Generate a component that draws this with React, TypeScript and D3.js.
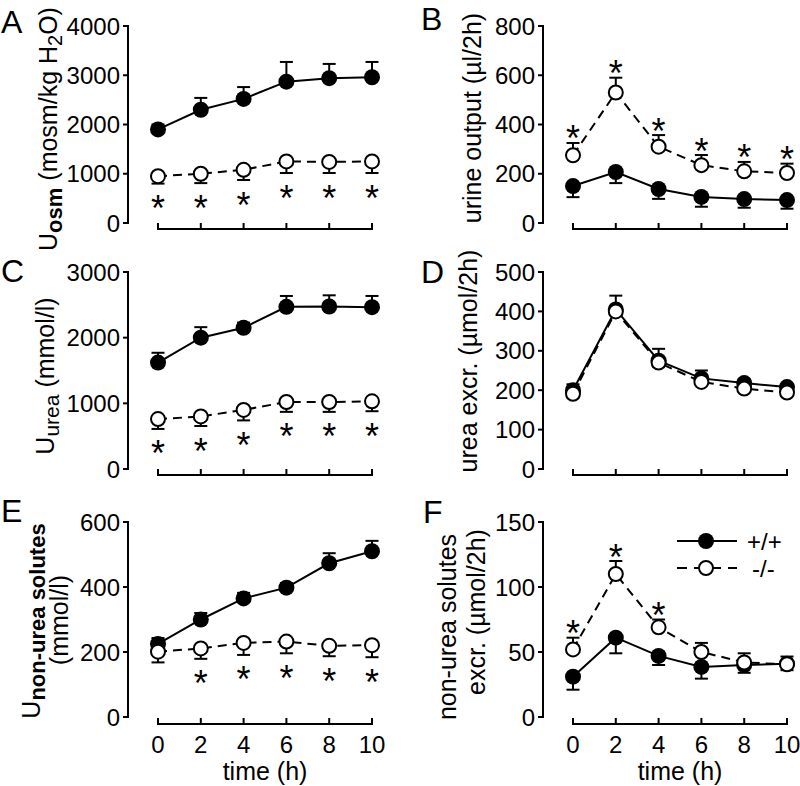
import React from 'react';
import * as d3 from 'd3';

// ---------- data ----------
const times = [0, 2, 4, 6, 8, 10];
const xTickLabels = ['0', '2', '4', '6', '8', '10'];

// A: U osm
const osmWT = [1900, 2300, 2520, 2870, 2940, 2960];
const osmWTsem = [100, 240, 240, 400, 290, 310];
const osmKO = [950, 1000, 1080, 1250, 1240, 1250];
const osmKOsem = [150, 190, 207, 235, 225, 235];
const osmSig = [1, 1, 1, 1, 1, 1];
const osmTicks = [0, 1000, 2000, 3000, 4000];

// B: urine output
const urineWT = [150, 207, 138, 106, 97, 93];
const urineWTsem = [45, 45, 40, 40, 35, 35];
const urineKO = [275, 530, 310, 235, 210, 203];
const urineKOsem = [50, 60, 47, 41, 38, 38];
const urineSig = [1, 1, 1, 1, 1, 1];
const urineTicks = [0, 200, 400, 600, 800];

// C: U urea
const ureaWT = [1620, 2000, 2150, 2470, 2475, 2465];
const ureaWTsem = [150, 160, 80, 165, 170, 170];
const ureaKO = [760, 800, 900, 1020, 1020, 1030];
const ureaKOsem = [150, 145, 160, 150, 150, 150];
const ureaSig = [1, 1, 1, 1, 1, 1];
const ureaTicks = [0, 1000, 2000, 3000];

// D: urea excretion
const ureaExWT = [200, 405, 275, 230, 218, 208];
const ureaExWTsem = [15, 35, 30, 20, 10, 8];
const ureaExKO = [191, 400, 270, 221, 204, 194];
const ureaExKOsem = [10, 10, 10, 8, 8, 8];
const ureaExSig = [0, 0, 0, 0, 0, 0];
const ureaExTicks = [0, 100, 200, 300, 400, 500];

// E: U non-urea solutes
const nonUreaWT = [225, 300, 365, 398, 473, 510];
const nonUreaWTsem = [18, 20, 17, 14, 31, 32];
const nonUreaKO = [201, 211, 228, 232, 219, 221];
const nonUreaKOsem = [33, 32, 37, 36, 32, 37];
const nonUreaSig = [0, 1, 1, 1, 1, 1];
const nonUreaTicks = [0, 200, 400, 600];

// F: non-urea solutes excretion
const nonUreaExWT = [31, 61, 47, 38.5, 40, 41];
const nonUreaExWTsem = [10, 12, 7, 9, 6, 5];
const nonUreaExKO = [52, 110, 69, 50, 42, 40.5];
const nonUreaExKOsem = [9, 10, 6, 7, 7, 6];
const nonUreaExSig = [1, 1, 1, 0, 0, 0];
const nonUreaExTicks = [0, 50, 100, 150];

const legendLabels = ['+/+', '-/-'];

// ---------- layout ----------
const FONT = "'Liberation Sans', Arial, Helvetica, sans-serif";
const cols = [
  { axisX: 128, x0: 158, x1: 372 },
  { axisX: 543, x0: 573, x1: 787 },
];
const rows = [
  { y0: 223, y1: 26, xAxisY: 229 },
  { y0: 469, y1: 272, xAxisY: 475 },
  { y0: 717, y1: 522, xAxisY: 724 },
];

type Panel = {
  letter: string;
  letterPos: [number, number];
  row: number;
  col: number;
  ticks: number[];
  wt: number[];
  wtSem: number[];
  wtUp: boolean;
  ko: number[];
  koSem: number[];
  koUp: boolean;
  sig: number[];
  label: React.ReactNode;
};

const sub = (t: string, bold = false, size = 21) => (
  <tspan fontSize={size} dy={5} fontWeight={bold ? 'bold' : 'normal'}>{t}</tspan>
);

const panels: Panel[] = [
  {
    letter: 'A', letterPos: [1, 33], row: 0, col: 0, ticks: osmTicks,
    wt: osmWT, wtSem: osmWTsem, wtUp: true, ko: osmKO, koSem: osmKOsem, koUp: false, sig: osmSig,
    label: (
      <text transform="translate(57,129) rotate(-90)" textAnchor="middle" fontSize={25}>
        U{sub('osm', true, 22)}<tspan dy={-5}> (mosm/kg H</tspan>{sub('2', false, 20)}<tspan dy={-5}>O)</tspan>
      </text>
    ),
  },
  {
    letter: 'B', letterPos: [421, 30], row: 0, col: 1, ticks: urineTicks,
    wt: urineWT, wtSem: urineWTsem, wtUp: false, ko: urineKO, koSem: urineKOsem, koUp: true, sig: urineSig,
    label: (
      <text transform="translate(481,118) rotate(-90)" textAnchor="middle" fontSize={25}>
        urine output (µl/2h)
      </text>
    ),
  },
  {
    letter: 'C', letterPos: [1, 282], row: 1, col: 0, ticks: ureaTicks,
    wt: ureaWT, wtSem: ureaWTsem, wtUp: true, ko: ureaKO, koSem: ureaKOsem, koUp: false, sig: ureaSig,
    label: (
      <text transform="translate(54,376) rotate(-90)" textAnchor="middle" fontSize={25}>
        U{sub('urea', false, 21)}<tspan dy={-5}> (mmol/l)</tspan>
      </text>
    ),
  },
  {
    letter: 'D', letterPos: [421, 283], row: 1, col: 1, ticks: ureaExTicks,
    wt: ureaExWT, wtSem: ureaExWTsem, wtUp: true, ko: ureaExKO, koSem: ureaExKOsem, koUp: false, sig: ureaExSig,
    label: (
      <text transform="translate(477,361) rotate(-90)" textAnchor="middle" fontSize={25}>
        urea excr. (µmol/2h)
      </text>
    ),
  },
  {
    letter: 'E', letterPos: [1, 522], row: 2, col: 0, ticks: nonUreaTicks,
    wt: nonUreaWT, wtSem: nonUreaWTsem, wtUp: true, ko: nonUreaKO, koSem: nonUreaKOsem, koUp: false, sig: nonUreaSig,
    label: (
      <g>
        <text transform="translate(40,621) rotate(-90)" textAnchor="middle" fontSize={25}>
          U{sub('non-urea solutes', true, 22)}
        </text>
        <text transform="translate(68,620) rotate(-90)" textAnchor="middle" fontSize={25}>
          (mmol/l)
        </text>
      </g>
    ),
  },
  {
    letter: 'F', letterPos: [423, 523], row: 2, col: 1, ticks: nonUreaExTicks,
    wt: nonUreaExWT, wtSem: nonUreaExWTsem, wtUp: false, ko: nonUreaExKO, koSem: nonUreaExKOsem, koUp: true, sig: nonUreaExSig,
    label: (
      <g>
        <text transform="translate(456,627) rotate(-90)" textAnchor="middle" fontSize={25}>
          non-urea solutes
        </text>
        <text transform="translate(485,612) rotate(-90)" textAnchor="middle" fontSize={25}>
          excr. (µmol/2h)
        </text>
      </g>
    ),
  },
];

const R = 8;
const CAP = 6.5;
const SW = 2;
const STAR = 36;

function Series({ xs, ys, vals, sems, up, filled }: any) {
  const pts = times.map((t, i) => [xs(t), ys(vals[i])] as [number, number]);
  const line = d3.line()(pts) || '';
  return (
    <g>
      <path d={line} fill="none" stroke="#000" strokeWidth={SW} strokeDasharray={filled ? undefined : '9,6'} />
      {times.map((t, i) => {
        const x = xs(t);
        const ye = ys(vals[i] + (up ? sems[i] : -sems[i]));
        return (
          <g key={'e' + i}>
            <line x1={x} x2={x} y1={ys(vals[i])} y2={ye} stroke="#000" strokeWidth={SW} />
            <line x1={x - CAP} x2={x + CAP} y1={ye} y2={ye} stroke="#000" strokeWidth={SW} />
          </g>
        );
      })}
      {times.map((t, i) =>
        filled ? (
          <circle key={'c' + i} cx={xs(t)} cy={ys(vals[i])} r={R} fill="#000" />
        ) : (
          <circle key={'c' + i} cx={xs(t)} cy={ys(vals[i])} r={R - 1} fill="#fff" stroke="#000" strokeWidth={SW} />
        )
      )}
    </g>
  );
}

function PanelView({ p }: { p: Panel }) {
  const c = cols[p.col];
  const r = rows[p.row];
  const yMax = p.ticks[p.ticks.length - 1];
  const xs = d3.scaleLinear().domain([0, 10]).range([c.x0, c.x1]);
  const ys = d3.scaleLinear().domain([0, yMax]).range([r.y0, r.y1]);
  return (
    <g>
      <text x={p.letterPos[0]} y={p.letterPos[1]} fontSize={32}>{p.letter}</text>
      {p.label}
      {/* y axis */}
      <line x1={c.axisX} x2={c.axisX} y1={ys(0)} y2={ys(yMax)} stroke="#000" strokeWidth={SW} strokeLinecap="square" />
      {p.ticks.map((t) => (
        <g key={t}>
          <line x1={c.axisX - 5} x2={c.axisX} y1={ys(t)} y2={ys(t)} stroke="#000" strokeWidth={SW} />
          <text x={c.axisX - 8} y={ys(t) + 8.5} textAnchor="end" fontSize={24}>{d3.format('d')(t)}</text>
        </g>
      ))}
      {/* x axis */}
      <line x1={xs(0)} x2={xs(10)} y1={r.xAxisY} y2={r.xAxisY} stroke="#000" strokeWidth={SW} strokeLinecap="square" />
      {times.map((t, i) => (
        <g key={'xt' + t}>
          <line x1={xs(t)} x2={xs(t)} y1={r.xAxisY} y2={r.xAxisY - 6} stroke="#000" strokeWidth={SW} />
          {p.row === 2 && (
            <text x={xs(t)} y={753} textAnchor="middle" fontSize={24}>{xTickLabels[i]}</text>
          )}
        </g>
      ))}
      {p.row === 2 && (
        <text x={(c.x0 + c.x1) / 2} y={780} textAnchor="middle" fontSize={25}>time (h)</text>
      )}
      <Series xs={xs} ys={ys} vals={p.wt} sems={p.wtSem} up={p.wtUp} filled={true} />
      <Series xs={xs} ys={ys} vals={p.ko} sems={p.koSem} up={p.koUp} filled={false} />
      {times.map((t, i) => {
        if (!p.sig[i]) return null;
        const end = ys(p.ko[i] + (p.koUp ? p.koSem[i] : -p.koSem[i]));
        const cy = p.koUp ? end - 12 : end + 17;
        return (
          <text key={'s' + i} x={xs(t)} y={cy + STAR * 0.57} textAnchor="middle" fontSize={STAR}>*</text>
        );
      })}
    </g>
  );
}

function Legend() {
  const ys = [541, 568];
  return (
    <g>
      {legendLabels.map((lab, i) => (
        <g key={lab}>
          <line x1={677} x2={737} y1={ys[i]} y2={ys[i]} stroke="#000" strokeWidth={SW} strokeDasharray={i === 0 ? undefined : '10,7'} />
          {i === 0 ? (
            <circle cx={706} cy={ys[i]} r={R} fill="#000" />
          ) : (
            <circle cx={706} cy={ys[i]} r={R - 1} fill="#fff" stroke="#000" strokeWidth={SW} />
          )}
          <text x={i === 0 ? 747 : 752} y={ys[i] + 8.5} fontSize={24}>{lab}</text>
        </g>
      ))}
    </g>
  );
}

export default function App() {
  return (
    <svg
      width={800}
      height={786}
      viewBox="0 0 800 786"
      style={{ position: 'absolute', left: 0, top: 0, background: '#fff' }}
      fontFamily={FONT}
    >
      <rect x={0} y={0} width={800} height={786} fill="#fff" />
      {panels.map((p) => (
        <PanelView key={p.letter} p={p} />
      ))}
      <Legend />
    </svg>
  );
}
